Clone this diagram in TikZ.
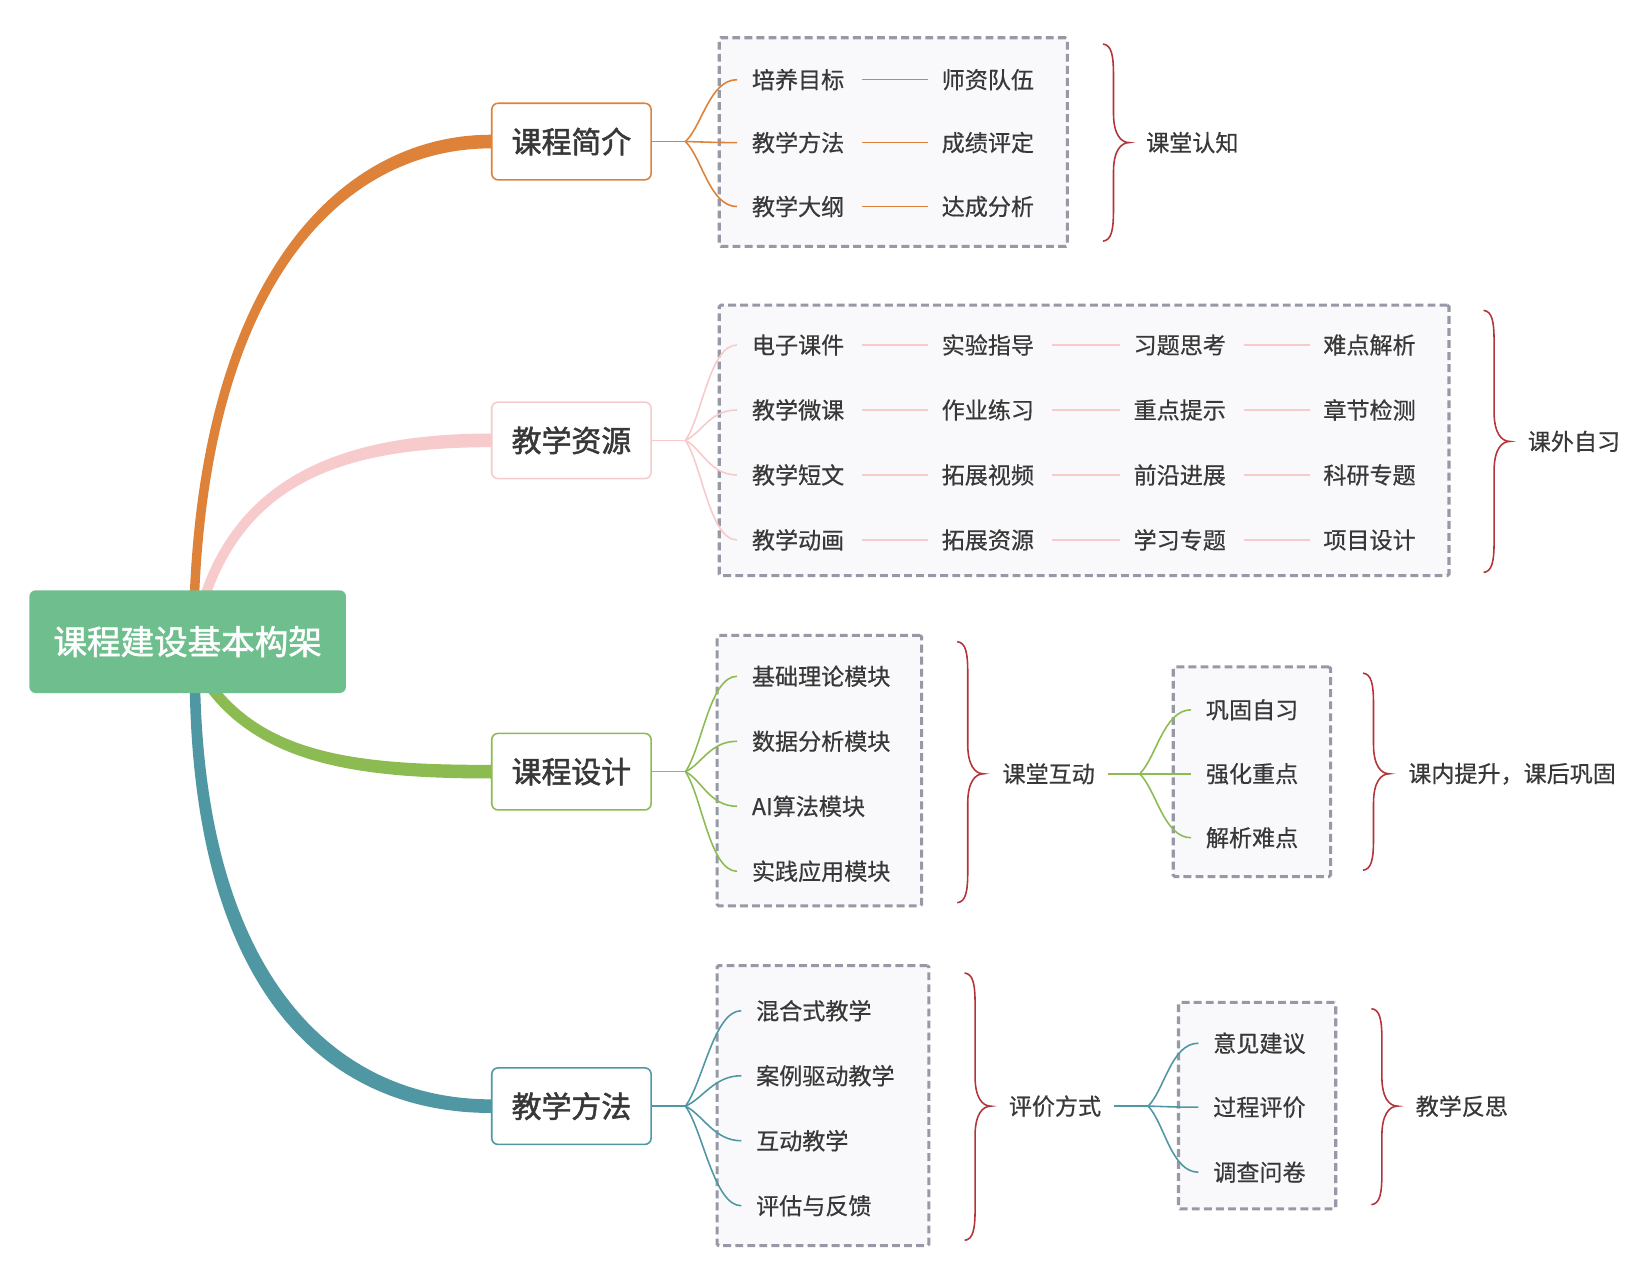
\documentclass[tikz,border=0pt]{standalone}
\usepackage{fontspec}
\setmainfont{Noto Sans CJK SC}
\newfontfamily\itemfont[FakeBold=0.5]{Noto Sans CJK SC}
\newfontfamily\headfont[FakeBold=1.6]{Noto Sans CJK SC}
\usetikzlibrary{calc,backgrounds}
\definecolor{cgreen}{HTML}{6FBF8E}
\definecolor{corange}{HTML}{DE823A}
\definecolor{cpink}{HTML}{F7CBCB}
\definecolor{clgreen}{HTML}{8CBB52}
\definecolor{cteal}{HTML}{4F97A3}
\definecolor{cred}{HTML}{B3353B}
\definecolor{cgray}{HTML}{979AA6}
\definecolor{cfill}{HTML}{F9F9FB}
\definecolor{ctext}{HTML}{383838}
\newcommand\mybrace[4]{%
  \draw[bracestyle] (#1,#2) .. controls (#1+8,#2+1) and (#1+10,#2+10) .. (#1+10,#2+30)
    -- (#1+10,#3-28) .. controls (#1+10,#3-8) and (#1+17,#3) .. (#1+25,#3)
    .. controls (#1+17,#3) and (#1+10,#3+8) .. (#1+10,#3+28)
    -- (#1+10,#4-30) .. controls (#1+10,#4-10) and (#1+8,#4-1) .. (#1,#4);}
\newcommand\forkto[3]{%
  \draw[#1] (#2) .. controls ($(#2)!0.25!(#3.west)$) and ($(#3.west)+(-40,0)$) .. ($(#3.west)+(-14,0)$);}
\begin{document}
\begin{tikzpicture}[x=1pt,y=-1pt,
  l1/.style={draw=#1, fill=white, line width=1.5pt, rounded corners=6pt, minimum width=152pt, minimum height=73pt, font=\headfont\fontsize{28.5}{32}\selectfont, text=ctext, inner sep=0pt},
  item/.style={anchor=west, inner sep=0pt, font=\itemfont\fontsize{22}{26}\selectfont, text=ctext},
  grp/.style={draw=cgray, fill=cfill, line width=2.9pt, dash pattern=on 7.5pt off 4pt, rounded corners=1.5pt, inner sep=0pt},
  bracestyle/.style={draw=cred, line width=1.5pt},
  twig/.style={draw=#1, line width=1.5pt},
]
\useasboundingbox (0,0) rectangle (1568,1207.4);

% group boxes
\node[grp, minimum width=332pt, minimum height=199pt] (g1) at (852,135.5) {};
\node[grp, minimum width=696pt, minimum height=258pt] (g2) at (1034,420) {};
\node[grp, minimum width=195pt, minimum height=258pt] (g3) at (781.5,735) {};
\node[grp, minimum width=150pt, minimum height=200pt] (g4) at (1194,736) {};
\node[grp, minimum width=202pt, minimum height=267pt] (g5) at (785,1054.5) {};
\node[grp, minimum width=150pt, minimum height=197pt] (g6) at (1199,1054.5) {};

% level 1
\node[l1=corange] (L1) at (545,135) {课程简介};
\node[l1=cpink] (L2) at (545,420) {教学资源};
\node[l1=clgreen] (L3) at (545,736) {课程设计};
\node[l1=cteal] (L4) at (545,1055) {教学方法};

% root
\node[fill=cgreen, rounded corners=6pt, minimum width=302pt, minimum height=98pt, inner sep=0pt, text=white, font=\headfont\fontsize{32}{36}\selectfont] (C) at (179,612) {课程建设基本构架};

\begin{scope}[on background layer]
\fill[white] (0,0) rectangle (1568,1207.4);
\fill[corange] ($(C.north)+(2,4)$) .. controls (194,255) and (330,128.5) .. ($(L1.west)+(0,-6.5)$) -- ($(L1.west)+(0,6.5)$) .. controls (334,141.5) and (203,259) .. ($(C.north)+(11,4)$) -- cycle;
\fill[cpink] ($(C.north)+(12,4)$) .. controls (230,452) and (330,413.5) .. ($(L2.west)+(0,-6.5)$) -- ($(L2.west)+(0,6.5)$) .. controls (332,426.5) and (240,458) .. ($(C.north)+(22,4)$) -- cycle;
\fill[clgreen] ($(C.south)+(17,-4)$) .. controls (250,730) and (345,742.5) .. ($(L3.west)+(0,6.5)$) -- ($(L3.west)+(0,-6.5)$) .. controls (352,729.5) and (262,722) .. ($(C.south)+(30,-4)$) -- cycle;
\fill[cteal] ($(C.south)+(2,-4)$) .. controls (186,950) and (314,1061.5) .. ($(L4.west)+(0,6.5)$) -- ($(L4.west)+(0,-6.5)$) .. controls (326,1048.5) and (198,940) .. ($(C.south)+(12,-4)$) -- cycle;
\end{scope}

% forks
\coordinate (f1) at ($(L1.east)+(32,0)$);
\coordinate (f2) at ($(L2.east)+(32,0)$);
\coordinate (f3) at ($(L3.east)+(32,0)$);
\coordinate (f4) at ($(L4.east)+(32,0)$);
\draw[twig=corange] (L1.east) -- (f1);
\draw[twig=cpink] (L2.east) -- (f2);
\draw[twig=clgreen] (L3.east) -- (f3);
\draw[twig=cteal] (L4.east) -- (f4);

% group 1
\foreach \n/\y/\ta/\tb in {1/76/培养目标/师资队伍, 2/136/教学方法/成绩评定, 3/197/教学大纲/达成分析}{
  \node[item] (a\n1) at (717,\y) {\ta};
  \node[item] (a\n2) at (898,\y) {\tb};
  \draw[twig=corange] ($(a\n1.east)+(17,0)$) -- ($(a\n2.west)+(-13,0)$);
  \forkto{twig=corange}{f1}{a\n1}
}

% group 2
\foreach \n/\y/\ta/\tb/\tc/\td in {1/329/电子课件/实验指导/习题思考/难点解析, 2/391/教学微课/作业练习/重点提示/章节检测, 3/453/教学短文/拓展视频/前沿进展/科研专题, 4/515/教学动画/拓展资源/学习专题/项目设计}{
  \node[item] (b\n1) at (717,\y) {\ta};
  \node[item] (b\n2) at (898,\y) {\tb};
  \node[item] (b\n3) at (1081,\y) {\tc};
  \node[item] (b\n4) at (1262,\y) {\td};
  \draw[twig=cpink] ($(b\n1.east)+(17,0)$) -- ($(b\n2.west)+(-13,0)$);
  \draw[twig=cpink] ($(b\n2.east)+(17,0)$) -- ($(b\n3.west)+(-13,0)$);
  \draw[twig=cpink] ($(b\n3.east)+(17,0)$) -- ($(b\n4.west)+(-13,0)$);
  \forkto{twig=cpink}{f2}{b\n1}
}

% group 3
\foreach \n/\y/\ta in {1/645/基础理论模块, 2/707/数据分析模块, 3/769/AI算法模块, 4/831/实践应用模块}{
  \node[item] (c\n) at (717,\y) {\ta};
  \forkto{twig=clgreen}{f3}{c\n}
}
\node[item] (k3) at (956,738) {课堂互动};
\coordinate (f3b) at (1087,738);
\draw[twig=clgreen] ($(k3.east)+(12,0)$) -- (f3b);
\foreach \n/\y/\ta in {1/677/巩固自习, 2/738/强化重点, 3/799/解析难点}{
  \node[item] (d\n) at (1150,\y) {\ta};
  \forkto{twig=clgreen}{f3b}{d\n}
}
\node[item] (k4) at (1343,738) {课内提升，课后巩固};

% group 5
\foreach \n/\y/\ta in {1/964/混合式教学, 2/1026/案例驱动教学, 3/1088/互动教学, 4/1150/评估与反馈}{
  \node[item] (e\n) at (721,\y) {\ta};
  \forkto{twig=cteal}{f4}{e\n}
}
\node[item] (k5) at (962,1055) {评价方式};
\coordinate (f5b) at (1095,1055);
\draw[twig=cteal] ($(k5.east)+(12,0)$) -- (f5b);
\foreach \n/\y/\ta in {1/995/意见建议, 2/1056/过程评价, 3/1118/调查问卷}{
  \node[item] (h\n) at (1157,\y) {\ta};
  \forkto{twig=cteal}{f5b}{h\n}
}
\node[item] (k6) at (1350,1055) {教学反思};

% labels
\node[item] (k1) at (1093,136) {课堂认知};
\node[item] (k2) at (1457,421) {课外自习};

% braces
\mybrace{1052}{42}{136}{230}
\mybrace{1415}{296}{421}{546}
\mybrace{913}{612}{738}{861}
\mybrace{1300}{642}{738}{830}
\mybrace{920}{928}{1055}{1183}
\mybrace{1308}{962}{1055}{1149}
\end{tikzpicture}
\end{document}
